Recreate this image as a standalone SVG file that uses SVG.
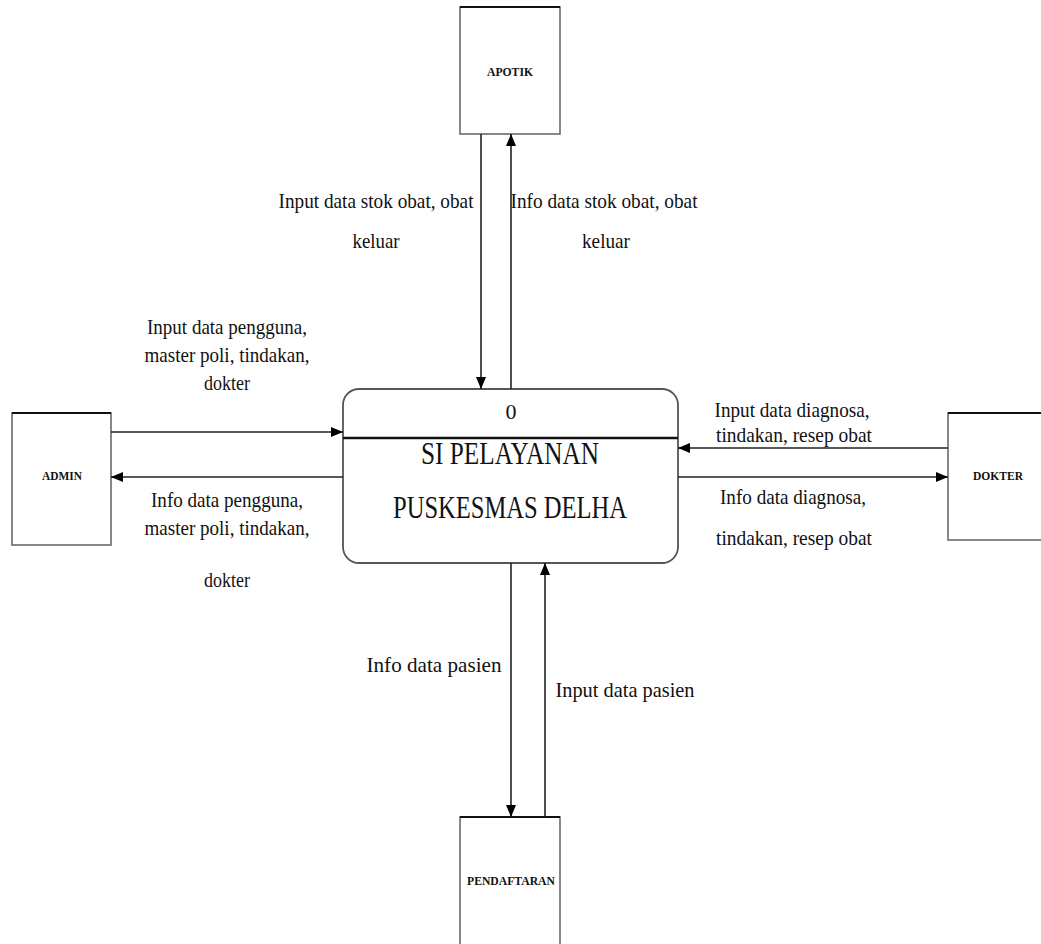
<svg xmlns="http://www.w3.org/2000/svg" width="1041" height="944" viewBox="0 0 1041 944">
<style>
.ent{fill:#fff;stroke:#6a6a6a;stroke-width:1.6}
.top{stroke:#111;stroke-width:2.2}
.et{font-family:"Liberation Serif",serif;font-size:12px;font-weight:bold;fill:#111;text-anchor:middle}
.lbl{font-family:"Liberation Serif",serif;font-size:22px;fill:#111;text-anchor:middle}
.pt{font-family:"Liberation Serif",serif;font-size:32px;fill:#111;text-anchor:middle}
.ln{stroke:#222;stroke-width:1.6;fill:none}
</style>
<defs>
<marker id="ah" viewBox="0 0 12 10" refX="12" refY="5" markerWidth="12" markerHeight="10" markerUnits="userSpaceOnUse" orient="auto">
<path d="M0,0 L12,5 L0,10 z" fill="#000"/>
</marker>
</defs>
<rect width="1041" height="944" fill="#fff"/>
<g id="apotik">
<rect class="ent" x="460" y="7" width="100" height="127"/>
<line class="top" x1="460" y1="7" x2="560" y2="7"/>
<text class="et" x="510" y="76" textLength="46" lengthAdjust="spacingAndGlyphs">APOTIK</text>
</g>
<g id="admin">
<rect class="ent" x="12" y="413" width="99" height="132"/>
<line class="top" x1="12" y1="413" x2="111" y2="413"/>
<text class="et" x="62" y="480" textLength="40" lengthAdjust="spacingAndGlyphs">ADMIN</text>
</g>
<g id="dokter">
<rect class="ent" x="948" y="413" width="100" height="127"/>
<line class="top" x1="948" y1="413" x2="1041" y2="413"/>
<text class="et" x="998" y="480" textLength="50" lengthAdjust="spacingAndGlyphs">DOKTER</text>
</g>
<g id="pendaftaran">
<rect class="ent" x="460" y="817" width="100" height="140"/>
<line class="top" x1="460" y1="817" x2="560" y2="817"/>
<text class="et" x="511" y="885" textLength="88" lengthAdjust="spacingAndGlyphs">PENDAFTARAN</text>
</g>
<g id="process">
<rect x="343" y="389" width="335" height="174" rx="16" ry="16" fill="#fff" stroke="#555" stroke-width="1.8"/>
<line x1="343" y1="438" x2="678" y2="438" stroke="#111" stroke-width="2.4"/>
<text class="lbl" x="511" y="419">0</text>
<text class="pt" x="510" y="464" textLength="178" lengthAdjust="spacingAndGlyphs">SI PELAYANAN</text>
<text class="pt" x="510" y="518" textLength="234" lengthAdjust="spacingAndGlyphs">PUSKESMAS DELHA</text>
</g>
<g id="connectors">
<line class="ln" x1="481" y1="134" x2="481" y2="389" marker-end="url(#ah)"/>
<line class="ln" x1="511" y1="389" x2="511" y2="134" marker-end="url(#ah)"/>
<line class="ln" x1="111" y1="432" x2="343" y2="432" marker-end="url(#ah)"/>
<line class="ln" x1="343" y1="477" x2="111" y2="477" marker-end="url(#ah)"/>
<line class="ln" x1="948" y1="448" x2="678" y2="448" marker-end="url(#ah)"/>
<line class="ln" x1="678" y1="477" x2="948" y2="477" marker-end="url(#ah)"/>
<line class="ln" x1="511" y1="563" x2="511" y2="817" marker-end="url(#ah)"/>
<line class="ln" x1="545" y1="817" x2="545" y2="563" marker-end="url(#ah)"/>
</g>
<g id="labels">
<text class="lbl" x="376" y="208" textLength="195" lengthAdjust="spacingAndGlyphs">Input data stok obat, obat</text>
<text class="lbl" x="376" y="248" textLength="47" lengthAdjust="spacingAndGlyphs">keluar</text>
<text class="lbl" x="604" y="208" textLength="187" lengthAdjust="spacingAndGlyphs">Info data stok obat, obat</text>
<text class="lbl" x="606" y="248" textLength="48" lengthAdjust="spacingAndGlyphs">keluar</text>
<text class="lbl" x="227" y="334" textLength="160" lengthAdjust="spacingAndGlyphs">Input data pengguna,</text>
<text class="lbl" x="227" y="362" textLength="165" lengthAdjust="spacingAndGlyphs">master poli, tindakan,</text>
<text class="lbl" x="227" y="390" textLength="46" lengthAdjust="spacingAndGlyphs">dokter</text>
<text class="lbl" x="227" y="507" textLength="152" lengthAdjust="spacingAndGlyphs">Info data pengguna,</text>
<text class="lbl" x="227" y="535" textLength="165" lengthAdjust="spacingAndGlyphs">master poli, tindakan,</text>
<text class="lbl" x="227" y="587" textLength="46" lengthAdjust="spacingAndGlyphs">dokter</text>
<text class="lbl" x="792" y="417" textLength="155" lengthAdjust="spacingAndGlyphs">Input data diagnosa,</text>
<text class="lbl" x="794" y="442" textLength="156" lengthAdjust="spacingAndGlyphs">tindakan, resep obat</text>
<text class="lbl" x="793" y="504" textLength="146" lengthAdjust="spacingAndGlyphs">Info data diagnosa,</text>
<text class="lbl" x="794" y="545" textLength="156" lengthAdjust="spacingAndGlyphs">tindakan, resep obat</text>
<text class="lbl" x="434" y="672" textLength="135" lengthAdjust="spacingAndGlyphs">Info data pasien</text>
<text class="lbl" x="625" y="697" textLength="139" lengthAdjust="spacingAndGlyphs">Input data pasien</text>
</g>
</svg>
